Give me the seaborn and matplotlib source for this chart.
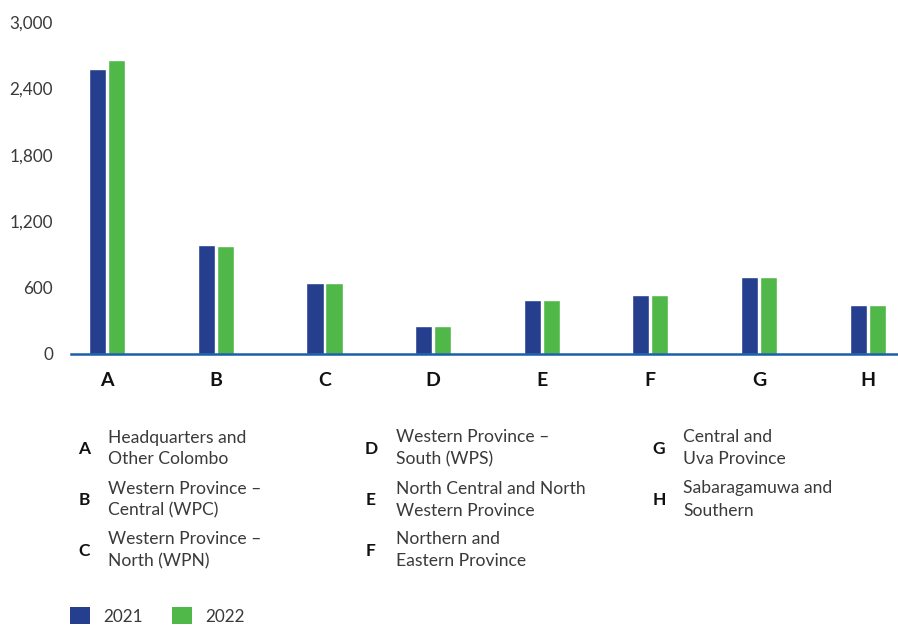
import matplotlib
matplotlib.use("Agg")
import matplotlib.pyplot as plt
from matplotlib.patches import Patch
import seaborn as sns
import pandas as pd

categories = ["A", "B", "C", "D", "E", "F", "G", "H"]
values_2021 = [2575, 985, 642, 253, 488, 533, 696, 443]
values_2022 = [2657, 976, 642, 253, 488, 533, 696, 443]
years = ["2021", "2022"]
y_ticks = [0, 600, 1200, 1800, 2400, 3000]
descriptions = [
    ("A", "Headquarters and", "Other Colombo"),
    ("B", "Western Province \u2013", "Central (WPC)"),
    ("C", "Western Province \u2013", "North (WPN)"),
    ("D", "Western Province \u2013", "South (WPS)"),
    ("E", "North Central and North", "Western Province"),
    ("F", "Northern and", "Eastern Province"),
    ("G", "Central and", "Uva Province"),
    ("H", "Sabaragamuwa and", "Southern"),
]

BLUE = "#253f8e"
GREEN = "#50b848"
AXIS = "#1a5fa8"
TXT = "#3a3a3a"

sns.set_style("white")
plt.rcParams["font.family"] = ["Lato", "DejaVu Sans"]

df = pd.DataFrame({
    "cat": categories * 2,
    "year": [years[0]] * len(categories) + [years[1]] * len(categories),
    "value": values_2021 + values_2022,
})

W, H = 898, 626
fig = plt.figure(figsize=(W / 100, H / 100), dpi=100)
ax = fig.add_axes([71 / W, 1 - 354 / H, 1 - 71 / W, (354 - 22) / H])

sns.barplot(data=df, x="cat", y="value", hue="year", order=categories,
            hue_order=years, palette=[BLUE, GREEN], width=0.35, gap=0.1,
            saturation=1, legend=False, ax=ax)

ax.set_ylim(0, 3000)
ax.set_xlim(-0.334, 7.28)
ax.set_yticks(y_ticks)
ax.set_yticklabels([f"{v:,}" for v in y_ticks], fontsize=12.3, color=TXT)
ax.set_xlabel("")
ax.set_ylabel("")
ax.tick_params(axis="y", length=0, pad=13)
ax.tick_params(axis="x", length=0, pad=13)
for lab in ax.get_xticklabels():
    lab.set_fontweight("bold")
    lab.set_fontsize(14)
    lab.set_color("#111111")
for s in ["top", "right", "left"]:
    ax.spines[s].set_visible(False)
ax.spines["bottom"].set_color(AXIS)
ax.spines["bottom"].set_linewidth(1.8)
ax.spines["bottom"].set_zorder(5)
ax.grid(False)

# description key
col_letter_x = [84, 371, 659]
col_text_x = [108, 396, 683]
row_centers = [449, 500, 551]
for i, (letter, l1, l2) in enumerate(descriptions):
    col, row = divmod(i, 3)
    yc = row_centers[row]
    fig.text(col_letter_x[col] / W, 1 - yc / H, letter, ha="center", va="center",
             fontsize=12.5, fontweight="bold", color="#111111")
    fig.text(col_text_x[col] / W, 1 - (yc - 11.5) / H, l1, ha="left", va="center",
             fontsize=12.6, color=TXT)
    fig.text(col_text_x[col] / W, 1 - (yc + 10.5) / H, l2, ha="left", va="center",
             fontsize=12.6, color=TXT)

handles = [Patch(facecolor=BLUE, edgecolor="none", label=years[0]),
           Patch(facecolor=GREEN, edgecolor="none", label=years[1])]
leg = fig.legend(handles=handles, loc="center left", bbox_to_anchor=(70 / W, 1 - 616 / H),
                 ncol=2, frameon=False, handlelength=1.15, handleheight=1.15,
                 handletextpad=0.8, columnspacing=1.7, borderpad=0, borderaxespad=0,
                 prop={"size": 12.3, "family": ["Lato", "DejaVu Sans"]})
for t in leg.get_texts():
    t.set_color(TXT)

fig.savefig("out.png", dpi=100)
